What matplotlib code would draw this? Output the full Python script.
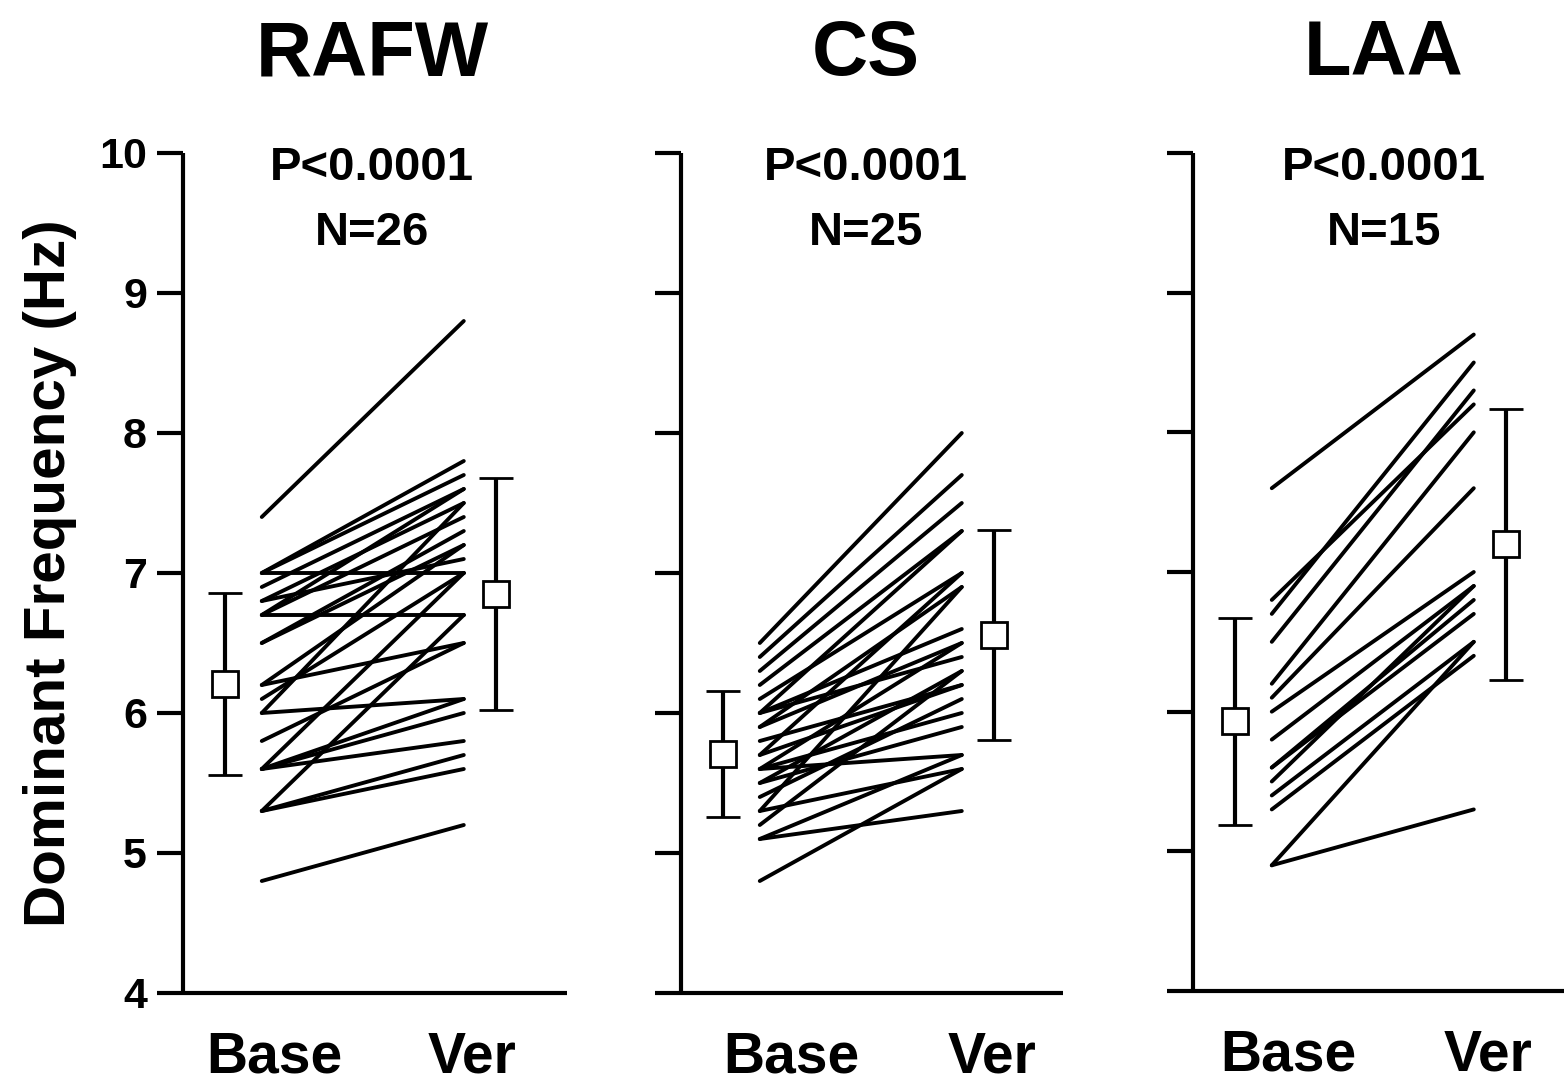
import matplotlib
matplotlib.use("Agg")
import matplotlib.pyplot as plt

plt.rcParams['font.family'] = ['Liberation Sans', 'DejaVu Sans']
plt.rcParams['font.weight'] = 'bold'

# ---------- data ----------
titles = ['RAFW', 'CS', 'LAA']
p_text = ['P<0.0001', 'P<0.0001', 'P<0.0001']
n_text = ['N=26', 'N=25', 'N=15']
xlabels = ['Base', 'Ver']

rafw_base = [7.4, 7.0, 7.0, 6.9, 6.8, 6.7, 7.0, 6.7, 6.5, 6.2, 6.1, 6.0, 5.6,
             5.3, 6.0, 5.8, 5.6, 5.6, 5.3, 5.3, 4.8, 6.7, 6.5, 6.2, 5.6, 6.8]
rafw_ver = [8.8, 7.8, 7.7, 7.6, 7.5, 7.4, 7.0, 6.7, 7.3, 7.2, 7.0, 7.5, 7.0,
            6.7, 6.1, 6.5, 6.1, 5.8, 5.7, 5.6, 5.2, 7.6, 7.2, 6.5, 6.0, 7.1]

cs_base = [6.5, 6.4, 6.3, 6.2, 6.0, 6.1, 5.9, 5.7, 5.3, 6.0, 5.6, 6.0, 5.5,
           5.8, 5.2, 5.4, 5.6, 5.5, 5.1, 5.6, 5.3, 4.8, 5.1, 5.9, 5.7]
cs_ver = [8.0, 7.7, 7.5, 7.3, 7.3, 7.0, 6.9, 7.0, 6.9, 6.6, 6.5, 6.4, 6.3,
          6.2, 6.3, 6.1, 6.0, 5.9, 5.7, 5.7, 5.6, 5.6, 5.3, 6.5, 6.2]

laa_base = [7.6, 6.8, 6.7, 6.5, 6.2, 6.1, 6.0, 5.8, 5.6, 5.6, 5.5, 5.4, 5.3, 4.9, 4.9]
laa_ver = [8.7, 8.2, 8.5, 8.3, 8.0, 7.6, 7.0, 6.9, 6.8, 6.7, 6.9, 6.5, 6.4, 6.5, 5.3]

# mean and SD shown beside each group
base_mean = [6.21, 5.71, 5.93]
base_sd = [0.65, 0.45, 0.74]
ver_mean = [6.85, 6.56, 7.20]
ver_sd = [0.83, 0.75, 0.97]

paired = [(rafw_base, rafw_ver), (cs_base, cs_ver), (laa_base, laa_ver)]

# ---------- layout (pixels) ----------
W, H = 1564, 1084
fig = plt.figure(figsize=(W / 100, H / 100), dpi=100)

px_unit = 202.0
panel_left = [183, 681, 1193]
panel_width = [384, 382, 371]
panel_bottom = [993, 993, 991]
axis_top = 153
label_pos = [(1.06, 2.04), (1.155, 2.15), (1.08, 2.07)]
label_pad = [27, 27, 27]
title_x = [372, 866, 1384]

for i in range(3):
    left = panel_left[i] / W
    bottom = (H - panel_bottom[i]) / H
    height = (panel_bottom[i] - axis_top) / H
    ax = fig.add_axes([left, bottom, panel_width[i] / W, height])
    ax.set_xlim(0.61, 0.61 + panel_width[i] / px_unit)
    ax.set_ylim(4, 10)

    base, ver = paired[i]
    for b, v in zip(base, ver):
        ax.plot([1, 2], [b, v], color='black', lw=2.8, solid_capstyle='round', zorder=2)

    for xm, m, s in [(0.82, base_mean[i], base_sd[i]), (2.16, ver_mean[i], ver_sd[i])]:
        ax.errorbar([xm], [m], yerr=[s], fmt='s', ms=19, mfc='white', mec='black',
                    mew=2, ecolor='black', elinewidth=3, capsize=12.5, capthick=3.2,
                    zorder=3)

    for side in ['top', 'right']:
        ax.spines[side].set_visible(False)
    for side in ['left', 'bottom']:
        ax.spines[side].set_linewidth(3)
        ax.spines[side].set_capstyle('butt')

    ax.set_yticks([4, 5, 6, 7, 8, 9, 10])
    ax.tick_params(axis='y', direction='out', length=19, width=3, pad=7,
                   labelsize=31)
    if i > 0:
        ax.set_yticklabels([])
    else:
        ax.set_ylabel('Dominant Frequency (Hz)', fontsize=42, fontweight='bold',
                      labelpad=16)
    ax.set_xticks(list(label_pos[i]))
    ax.set_xticklabels(xlabels, fontsize=41, fontweight='bold')
    ax.tick_params(axis='x', length=0, pad=label_pad[i])

    fig.text(title_x[i] / W, 1 - 75 / H, titles[i], ha='center', va='baseline',
             fontsize=56, fontweight='bold')
    fig.text(title_x[i] / W, 1 - 180 / H, p_text[i], ha='center', va='baseline',
             fontsize=34, fontweight='bold')
    fig.text(title_x[i] / W, 1 - 245 / H, n_text[i], ha='center', va='baseline',
             fontsize=34, fontweight='bold')

fig.savefig('out.png', dpi=100, facecolor='white')
